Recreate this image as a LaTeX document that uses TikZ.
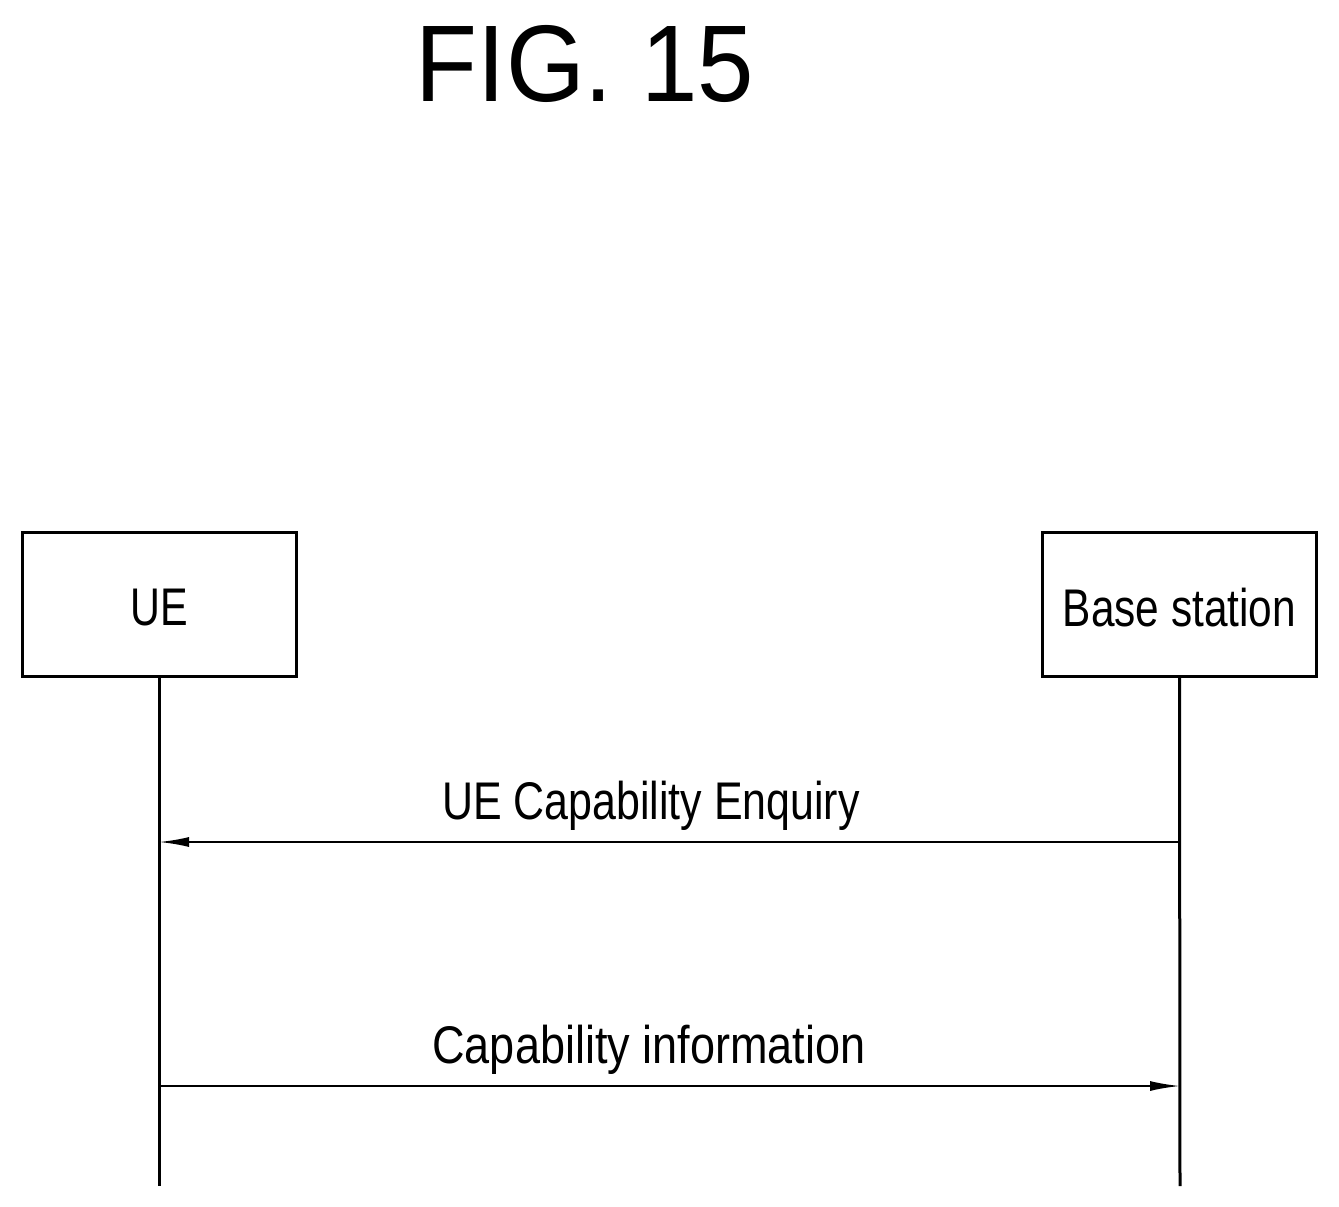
\documentclass[tikz,border=0pt]{standalone}
\usepackage{fontspec}
\setmainfont{Liberation Sans}
\usetikzlibrary{arrows.meta}
\begin{document}
\begin{tikzpicture}[x=1pt,y=-1pt,
  ent/.style={draw,line width=3pt,minimum width=274pt,minimum height=144pt,inner sep=0pt},
  life/.style={line width=3pt},
  msg/.style={line width=2pt,-{Latex[length=30pt,width=10pt]}},
  lbl/.style={font=\fontsize{53}{60}\selectfont}]
\useasboundingbox (0,0) rectangle (1339,1207);
\node (title) at (585,64) {\scalebox{0.93}[1]{\fontsize{109}{120}\selectfont FIG. 15}};
\node[ent] (ue) at (159,604) {};
\node[lbl] at (159,608) {\scalebox{0.78}[1]{UE}};
\node[ent] (bs) at (1179.5,604) {};
\node[lbl] at (1179.5,608) {\scalebox{0.8}[1]{Base station}};
\coordinate (ueEnd) at (159,1186);
\coordinate (bsEnd) at (1180,1186);
\draw[life] (ue.south) -- (ueEnd);
\draw[life] (bs.south) -- (bsEnd);
\coordinate (a1) at (1180,842); \coordinate (a2) at (159,842);
\coordinate (b1) at (159,1086); \coordinate (b2) at (1180,1086);
\draw[msg] (a1) -- (a2);
\draw[msg] (b1) -- (b2);
\node[lbl] at (651,806) {\scalebox{0.81}[1]{UE Capability Enquiry}};
\node[lbl] at (649,1050) {\scalebox{0.85}[1]{Capability information}};
\end{tikzpicture}
\end{document}
